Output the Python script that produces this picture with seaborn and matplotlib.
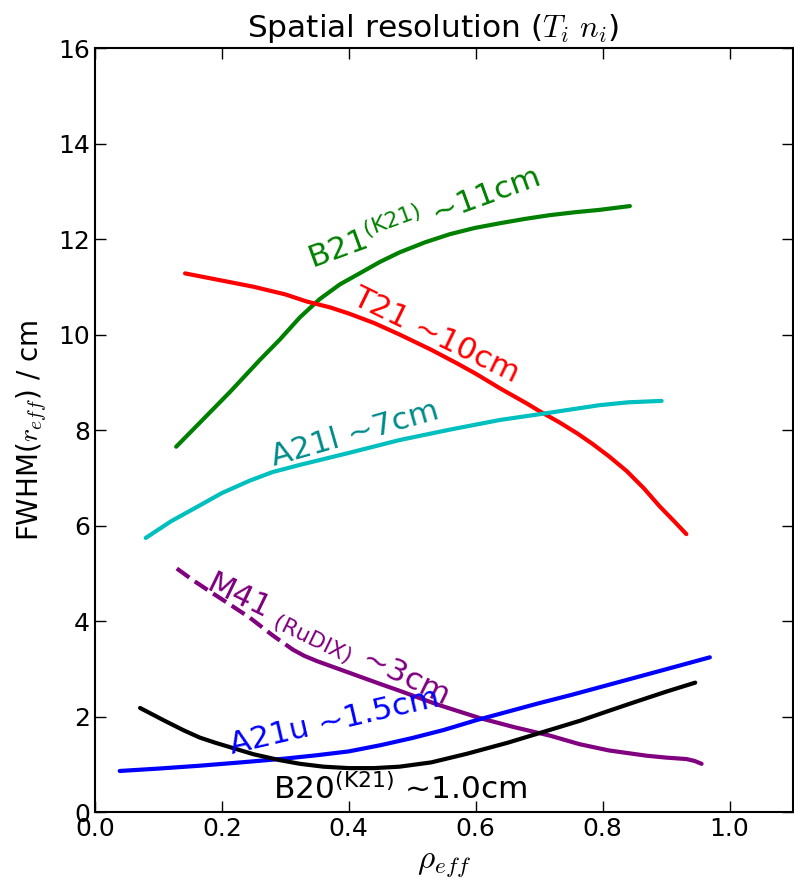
import matplotlib
matplotlib.use("Agg")
import matplotlib.pyplot as plt
import numpy as np
import pandas as pd
import seaborn as sns

# ---- data ----
b21_x = [0.128, 0.165, 0.213, 0.260, 0.291, 0.323, 0.354, 0.386, 0.417, 0.449, 0.480,
         0.520, 0.559, 0.598, 0.638, 0.677, 0.717, 0.756, 0.795, 0.843]
b21_y = [7.65, 8.15, 8.80, 9.47, 9.89, 10.36, 10.74, 11.05, 11.28, 11.52, 11.72,
         11.93, 12.10, 12.23, 12.33, 12.42, 12.50, 12.56, 12.61, 12.69]

t21_x = [0.142, 0.20, 0.25, 0.30, 0.334, 0.37, 0.40, 0.44, 0.48, 0.53, 0.57, 0.60,
         0.64, 0.68, 0.70, 0.732, 0.76, 0.784, 0.81, 0.838, 0.865, 0.89, 0.912, 0.932]
t21_y = [11.28, 11.13, 11.0, 10.84, 10.69, 10.57, 10.44, 10.24, 10.0, 9.68, 9.40, 9.18,
         8.86, 8.56, 8.40, 8.16, 7.93, 7.71, 7.45, 7.14, 6.78, 6.40, 6.10, 5.82]

a21l_x = [0.080, 0.12, 0.165, 0.20, 0.244, 0.28, 0.323, 0.40, 0.48, 0.56, 0.638,
          0.70, 0.75, 0.795, 0.84, 0.893]
a21l_y = [5.74, 6.09, 6.42, 6.68, 6.94, 7.12, 7.27, 7.52, 7.79, 8.01, 8.21,
          8.33, 8.43, 8.52, 8.58, 8.61]

m41_dash_x = [0.129, 0.155, 0.181, 0.21, 0.244, 0.28, 0.312]
m41_dash_y = [5.10, 4.85, 4.62, 4.37, 4.07, 3.70, 3.40]
m41_x = [0.312, 0.33, 0.35, 0.40, 0.45, 0.48, 0.54, 0.606, 0.66, 0.717, 0.764, 0.81,
         0.869, 0.90, 0.932, 0.945, 0.956]
m41_y = [3.40, 3.27, 3.16, 2.92, 2.68, 2.54, 2.25, 1.97, 1.78, 1.60, 1.42, 1.29,
         1.18, 1.14, 1.11, 1.07, 1.01]

a21u_x = [0.039, 0.10, 0.165, 0.23, 0.30, 0.35, 0.40, 0.45, 0.50, 0.55, 0.60,
          0.65, 0.70, 0.75, 0.80, 0.85, 0.90, 0.969]
a21u_y = [0.86, 0.91, 0.97, 1.04, 1.12, 1.19, 1.27, 1.40, 1.55, 1.72, 1.92,
          2.10, 2.28, 2.45, 2.63, 2.81, 2.99, 3.24]

b20_x = [0.071, 0.11, 0.14, 0.165, 0.19, 0.21, 0.25, 0.29, 0.323, 0.36, 0.40, 0.44,
         0.48, 0.53, 0.586, 0.65, 0.717, 0.764, 0.81, 0.85, 0.90, 0.946]
b20_y = [2.18, 1.91, 1.71, 1.56, 1.45, 1.37, 1.21, 1.09, 1.01, 0.95, 0.92, 0.92,
         0.95, 1.04, 1.22, 1.45, 1.72, 1.91, 2.12, 2.30, 2.52, 2.71]

x_ticks = [0.0, 0.2, 0.4, 0.6, 0.8, 1.0]
y_ticks = [0, 2, 4, 6, 8, 10, 12, 14, 16]

labels = ["B21$\\mathregular{^{(K21)}}$ ~11cm", "T21 ~10cm", "A21l ~7cm",
          "M41 $\\mathregular{_{(RuDIX)}}$ ~3cm", "A21u ~1.5cm",
          "B20$\\mathregular{^{(K21)}}$ ~1.0cm"]
label_x = [0.343, 0.402, 0.282, 0.173, 0.216, 0.28]
label_y = [11.37, 10.67, 7.25, 4.68, 1.22, 0.27]
label_rot = [20, -26, 16, -26, 13, 0]

title = "Spatial resolution ($T_i\\ n_i$)"
xlabel = "$\\rho_{eff}$"
ylabel = "FWHM($r_{eff}$) / cm"

# ---- style ----
sns.set_style("ticks")
plt.rcParams.update({
    "font.family": ["DejaVu Sans"],
    "mathtext.fontset": "cm",
    "text.color": "black",
    "axes.labelcolor": "black",
    "xtick.direction": "in",
    "ytick.direction": "in",
    "xtick.top": True,
    "ytick.right": True,
    "xtick.major.size": 8,
    "ytick.major.size": 8,
    "xtick.major.width": 1,
    "ytick.major.width": 1,
    "axes.linewidth": 1.5,
    "axes.edgecolor": "black",
    "xtick.color": "black",
    "ytick.color": "black",
    "lines.solid_joinstyle": "round",
})

fig = plt.figure(figsize=(7.94, 8.84), dpi=100)
ax = fig.add_axes([0.1196, 0.0814, 0.8791, 0.8643])

series = [
    (b21_x, b21_y, "green", "-"),
    (t21_x, t21_y, "red", "-"),
    (a21l_x, a21l_y, "#00bfbf", "-"),
    (m41_dash_x, m41_dash_y, "purple", "--"),
    (m41_x, m41_y, "purple", "-"),
    (a21u_x, a21u_y, "blue", "-"),
    (b20_x, b20_y, "black", "-"),
]
for xs, ys, col, ls in series:
    df = pd.DataFrame({"x": xs, "y": ys})
    sns.lineplot(data=df, x="x", y="y", sort=False, color=col, linestyle=ls,
                 linewidth=3, ax=ax, estimator=None)

label_colors = ["green", "red", "#008b8b", "purple", "blue", "black"]
for t, lx, ly, r, c in zip(labels, label_x, label_y, label_rot, label_colors):
    ax.text(lx, ly, t, color=c, fontsize=22.5, rotation=r, rotation_mode="anchor",
            ha="left", va="baseline")

ax.set_xlim(0, 1.1)
ax.set_ylim(0, 16)
ax.set_xticks(x_ticks)
ax.set_xticklabels([f"{v:.1f}" for v in x_ticks])
ax.set_yticks(y_ticks)
ax.tick_params(labelsize=18)
ax.set_title(title, fontsize=22.5, pad=8, x=0.485, color="black")
ax.set_xlabel(xlabel, fontsize=24, labelpad=4)
ax.set_ylabel(ylabel, fontsize=20, labelpad=6)

fig.savefig("out.png", dpi=100, facecolor="white")
